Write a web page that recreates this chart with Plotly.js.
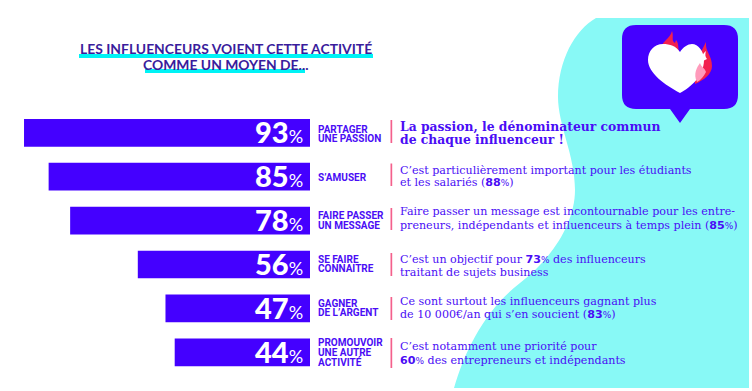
<!DOCTYPE html>
<html><head><meta charset="utf-8">
<script src="https://cdn.plot.ly/plotly-3.0.1.min.js"></script>
<style>html,body{margin:0;padding:0;background:#fff}#c{width:752px;height:391px}</style>
</head><body><div id="c"></div>
<script>
var categories = ["Partager une passion","S'amuser","Faire passer un message","Se faire connaitre","Gagner de l'argent","Promouvoir une autre activité"];
var values = [93,85,78,56,47,44];
var labelLines = [["PARTAGER","UNE PASSION"],["S’AMUSER"],["FAIRE PASSER","UN MESSAGE"],["SE FAIRE","CONNAITRE"],["GAGNER","DE L’ARGENT"],["PROMOUVOIR","UNE AUTRE","ACTIVITÉ"]];
var commentLines = [
 ["<b>La passion, le dénominateur commun</b>","<b>de chaque influenceur !</b>"],
 ["C’est particulièrement important pour les étudiants","et les salariés (#88#)"],
 ["Faire passer un message est incontournable pour les entre-","preneurs, indépendants et influenceurs à temps plein (#85#)"],
 ["C’est un objectif pour #73# des influenceurs","traitant de sujets business"],
 ["Ce sont surtout les influenceurs gagnant plus","de 10 000€/an qui s’en soucient (#83#)"],
 ["C’est notamment une priorité pour","#60# des entrepreneurs et indépendants"]
];
var titleLines = ["LES INFLUENCEURS VOIENT CETTE ACTIVITÉ","COMME UN MOYEN DE..."];

var W=752,H=391, INK="#4A0DF5", BAR="#4400FF", CYAN="#88F9F6";
function X(p){return p/W} function Y(p){return 1-p/H}
function path(str){
  return str.replace(/(-?[\d.]+) (-?[\d.]+)/g,function(m,a,b){return X(+a).toFixed(5)+" "+Y(+b).toFixed(5)});
}
function shp(d,fill){return {type:"path",xref:"paper",yref:"paper",layer:"below",path:path(d),fillcolor:fill,line:{width:0}}}
function rect(x0,y0,x1,y1,fill){return {type:"rect",xref:"paper",yref:"paper",layer:"below",x0:X(x0),x1:X(x1),y0:Y(y0),y1:Y(y1),fillcolor:fill,line:{width:0}}}

var shapes=[
 shp("M 749 18 L 596 18 C 575 30 558 60 558 97 C 558 125 575 155 575 190 C 575 225 550 260 520 283 C 485 310 465 350 454 388 L 749 388 Z",CYAN),
 rect(79,54,373,58,"#00F3F5"),
 rect(145,69,305,73,"#00F3F5"),
 shp("M 636 25 L 724 25 Q 738 25 738 39 L 738 95 Q 738 109 724 109 L 690 109 L 680 123 L 670 109 L 636 109 Q 622 109 622 95 L 622 39 Q 622 25 636 25 Z",BAR),
 shp("M 662 47 C 662 41 670 39 672 31 C 674 36 671 41 675 43 L 676 40 C 679 43 678 49 679 52 L 668 48 Z","#F2204F"),
 shp("M 706 42 C 705 52 712 55 712 66 C 712 74 704 80 695 84 L 694 60 L 702 50 Z","#F2204F"),
 shp("M 680 52 C 676 46 670 44 663 44 C 654 44 648 51 648 60 C 648 73 665 85 680 93 C 690 88 704 76 704 60 C 704 51 698 44 692 44 C 688 44 683 47 680 52 Z","#FFFFFF"),
 shp("M 697 82 C 693 74 697 67 700 63 C 701 67 705 68 706 72 C 704 76 701 80 697 82 Z","#FF9ABB"),
 shp("M 706 51 C 702 54 701 59 703 61 L 707 59 C 705 57 705 54 706 51 Z","#FFFFFF")
];
var sepTop=[120,163.5,208,253,297,338], sepBot=[143,186,230,276,320,368];
sepTop.forEach(function(t,i){shapes.push(rect(390.5,t,392.2,sepBot[i],"#F4608C"))});

var ann=[];
function a(o){o.showarrow=false;ann.push(o)}
titleLines.forEach(function(t,i){a({xref:"paper",yref:"paper",x:X(226),y:Y([48,65][i]),xanchor:"center",yanchor:"middle",text:t,font:{family:"Lato",size:13.9,weight:700,color:"#3A1C9C"}})});

var labelOffsets=[[-3.5,6],[0.5],[-5,5],[-5.5,4],[-5,4.5],[-9.5,0,9.5]];
var commentOffsets=[[-6.8,6.5],[-6.7,6],[-8.9,4.4],[-5.5,7.8],[-6.7,5.9],[-5.6,7.7]];
categories.forEach(function(c,i){
  a({xref:"x",yref:"y",x:0,y:c,xanchor:"right",yanchor:"middle",xshift:-5,yshift:1,
     text:values[i]+'<span style="font-size:18px;font-weight:400">%</span>',
     font:{family:"Lato",size:29,weight:900,color:"#fff"}});
  labelLines[i].forEach(function(t,k){
    a({xref:"x",yref:"y",x:0,y:c,xanchor:"left",yanchor:"middle",xshift:6,yshift:-labelOffsets[i][k],
       text:"<b>"+t+"</b>",font:{family:"Roboto",size:10,color:INK}});
  });
  commentLines[i].forEach(function(t,k){
    var html=t.replace(/#(\d+)#/g,'<span style="font-family:DejaVu Sans;font-weight:700">$1</span><span style="font-family:DejaVu Sans;font-size:9px">%</span>');
    a({xref:"x",yref:"y",x:0,y:c,xanchor:"left",yanchor:"middle",xshift:87.5,yshift:-commentOffsets[i][k],
       text:html,font:{family:"DejaVu Serif",size:i==0?12.35:11.1,color:INK}});
  });
});

Plotly.newPlot("c",[{type:"bar",orientation:"h",y:categories,x:values,width:0.63,
  marker:{color:BAR,line:{width:0}},hoverinfo:"skip"}],
 {width:W,height:H,margin:{l:0,r:0,t:0,b:0,pad:0},autosize:false,showlegend:false,
  paper_bgcolor:"#fff",plot_bgcolor:"rgba(0,0,0,0)",
  xaxis:{range:[310/3.075,(310-W)/3.075],visible:false,fixedrange:true},
  yaxis:{type:"category",categoryorder:"array",categoryarray:categories,range:[(H-132.8)/43.9,-132.8/43.9],visible:false,fixedrange:true},
  shapes:shapes,annotations:ann},{displayModeBar:false,staticPlot:true});
</script></body></html>
